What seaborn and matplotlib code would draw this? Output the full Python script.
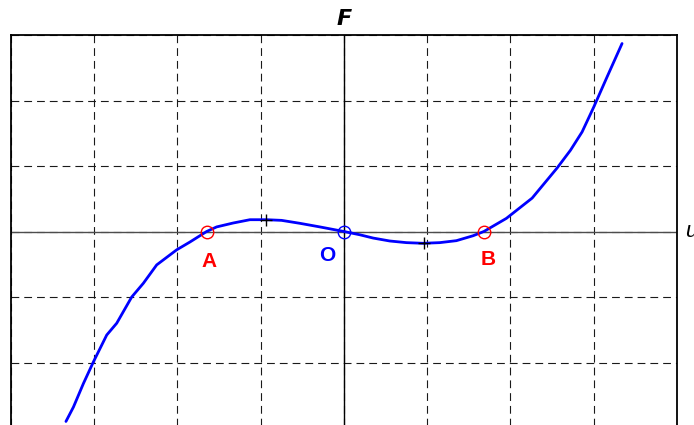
import matplotlib
matplotlib.use("Agg")
import matplotlib.pyplot as plt
import seaborn as sns
import pandas as pd

# curve F(u)
u_vals = [-3.34, -3.25, -3.13, -3.01, -2.85, -2.73, -2.55, -2.41, -2.25, -2.01,
          -1.85, -1.65, -1.53, -1.33, -1.13, -0.93, -0.75, -0.53, -0.29, 0.0,
          0.19, 0.35, 0.55, 0.75, 0.95, 1.15, 1.35, 1.55, 1.68, 1.95,
          2.26, 2.56, 2.72, 2.86, 3.0, 3.16, 3.34]
f_vals = [-2.90, -2.68, -2.32, -1.99, -1.58, -1.40, -1.00, -0.79, -0.51, -0.28,
          -0.16, 0.0, 0.07, 0.13, 0.18, 0.18, 0.17, 0.125, 0.07, 0.0,
          -0.05, -0.10, -0.145, -0.17, -0.18, -0.17, -0.14, -0.065, 0.0, 0.20,
          0.51, 0.97, 1.24, 1.52, 1.90, 2.36, 2.87]

# equilibrium points
pt_names = ["A", "O", "B"]
pt_u = [-1.65, 0.0, 1.68]
pt_colors = ["red", "blue", "red"]
label_offsets = [(0.03, -0.46), (-0.2, -0.36), (0.05, -0.43)]

# extrema crosses
ext_u = [-0.94, 0.96]
ext_f = [0.17, -0.18]

df = pd.DataFrame({"u": u_vals, "F": f_vals})

sns.set_style("white")
plt.rcParams["font.family"] = ["Liberation Sans", "DejaVu Sans"]
plt.rcParams["text.color"] = "black"

fig = plt.figure(figsize=(6.94, 4.25), dpi=100)
ax = fig.add_axes([11 / 694, 1 - 428 / 425, 666 / 694, 393 / 425])

ax.set_xlim(-4, 4)
ax.set_ylim(-3, 3)
ax.set_xticks(range(-4, 5))
ax.set_yticks(range(-3, 4))
ax.set_xticklabels([])
ax.set_yticklabels([])
ax.tick_params(length=0)
ax.grid(True, color="0.1", lw=0.8, ls=(0, (7, 4.5)))

ax.axhline(0, color="0.3", lw=1.0, zorder=1)
ax.axvline(0, color="black", lw=1.0, zorder=1)

sns.lineplot(data=df, x="u", y="F", sort=False, color="blue", lw=2.0, ax=ax, zorder=3)

ax.plot(ext_u, ext_f, "k+", ms=9, mew=1.0, zorder=4)
for name, u, c, (dx, dy) in zip(pt_names, pt_u, pt_colors, label_offsets):
    ax.plot(u, 0, "o", ms=9, mfc="none", mec=c, mew=1.0, zorder=5)
    ax.text(u + dx, dy, name, color=c, fontsize=15, fontweight="bold",
            ha="center", va="center")

for s in ax.spines.values():
    s.set_color("black")
    s.set_linewidth(1.3)

ax.set_xlabel("")
ax.set_ylabel("")
ax.set_title("F", fontsize=16, fontweight="bold", fontstyle="oblique",
             family=["DejaVu Sans"], color="black", pad=7)
ax.text(1.012, 0.5, "u", transform=ax.transAxes, fontsize=16, fontstyle="italic",
        color="black", ha="left", va="center", clip_on=False)

fig.savefig("out.png", dpi=100)
